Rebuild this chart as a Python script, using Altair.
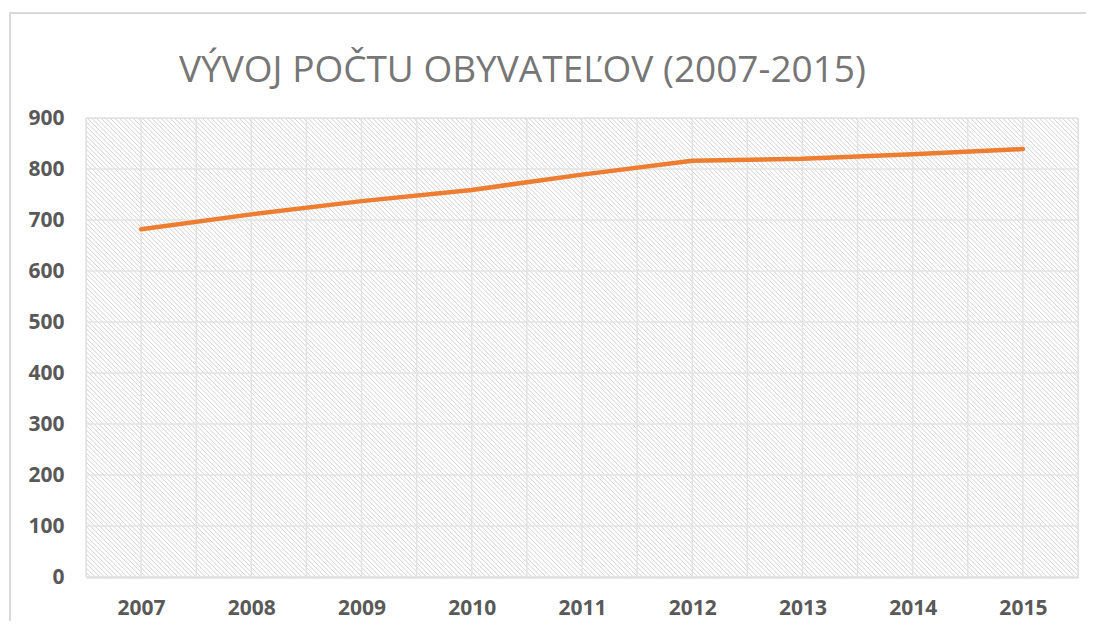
import altair as alt
import pandas as pd
import numpy as np

# ---- data ----
years = [2007, 2008, 2009, 2010, 2011, 2012, 2013, 2014, 2015]
population = [682, 711, 737, 759, 789, 816, 820, 829, 839]
y_ticks = [0, 100, 200, 300, 400, 500, 600, 700, 800, 900]
title_text = "VÝVOJ POČTU OBYVATEĽOV (2007-2015)"

W, H = 992, 459
X_MIN, X_MAX = 2006.5, 2015.5
Y_MIN, Y_MAX = 0, 900

df = pd.DataFrame({"year": years, "pop": population})

# vertical grid at every category and halfway between
x_grid = [y / 2 for y in range(2 * 2006 + 1, 2 * 2015 + 2)]
grid_x_df = pd.DataFrame({"year": x_grid})
grid_y_df = pd.DataFrame({"pop": y_ticks})

# decorative diagonal hatch of the plot background (45 degrees, "\" direction)
px_x = (X_MAX - X_MIN) / W
step_px = 4.6
starts = np.arange(X_MIN - H * px_x, X_MAX + step_px * px_x, step_px * px_x)
hatch_df = pd.DataFrame({"year": starts, "x2": starts + H * px_x,
                         "pop": [Y_MAX] * len(starts), "y2": [Y_MIN] * len(starts)})

xs = alt.Scale(domain=[X_MIN, X_MAX], nice=False, zero=False)
ys = alt.Scale(domain=[Y_MIN, Y_MAX], nice=False)

label_color = "#595959"

x_axis = alt.Axis(
    values=years,
    title=None,
    grid=False,
    ticks=False,
    domain=True,
    domainColor="#d4d4d4",
    domainWidth=2,
    labelFont="Open Sans",
    labelFontWeight="bold",
    labelFontSize=21,
    labelColor=label_color,
    labelPadding=20,
    format="d",
)
y_axis = alt.Axis(
    values=y_ticks,
    title=None,
    grid=False,
    ticks=False,
    domain=False,
    labelFont="Open Sans",
    labelFontWeight="bold",
    labelFontSize=21,
    labelColor=label_color,
    labelPadding=22,
)

line = alt.Chart(df).mark_line(
    color="#ED7D31", strokeWidth=4.5, strokeCap="round", strokeJoin="round"
).encode(
    x=alt.X("year:Q", scale=xs, axis=x_axis),
    y=alt.Y("pop:Q", scale=ys, axis=y_axis),
)

hatch = alt.Chart(hatch_df).mark_rule(
    color="#d2d2d2", strokeWidth=1, clip=True
).encode(
    x=alt.X("year:Q", scale=xs, axis=x_axis),
    x2="x2:Q",
    y=alt.Y("pop:Q", scale=ys, axis=y_axis),
    y2="y2:Q",
)

vgrid = alt.Chart(grid_x_df).mark_rule(color="#e3e3e3", strokeWidth=1.5).encode(
    x=alt.X("year:Q", scale=xs, axis=x_axis)
)
hgrid = alt.Chart(grid_y_df).mark_rule(color="#e3e3e3", strokeWidth=1.5).encode(
    y=alt.Y("pop:Q", scale=ys, axis=y_axis)
)

frame = alt.Chart(pd.DataFrame({"a": [0]})).mark_rect(
    fillOpacity=0, stroke="#d9d9d9", strokeWidth=2
).encode(
    x=alt.value(-76), x2=alt.value(1004), y=alt.value(-105), y2=alt.value(530)
)

title = alt.Chart(pd.DataFrame({"t": [title_text]})).mark_text(
    font="Open Sans",
    fontSize=37,
    fontWeight="normal",
    color="#767676",
    align="left",
    baseline="alphabetic",
).encode(text="t:N", x=alt.value(93), y=alt.value(-36))

chart = alt.layer(frame, hatch, vgrid, hgrid, line, title).properties(
    width=W,
    height=H,
    padding={"left": 78, "top": 110, "right": 8, "bottom": 44},
    autosize=alt.AutoSizeParams(type="none"),
).configure_view(stroke=None).configure(background="white")

chart.save("out.html", embed_options={"renderer": "svg", "actions": False})
